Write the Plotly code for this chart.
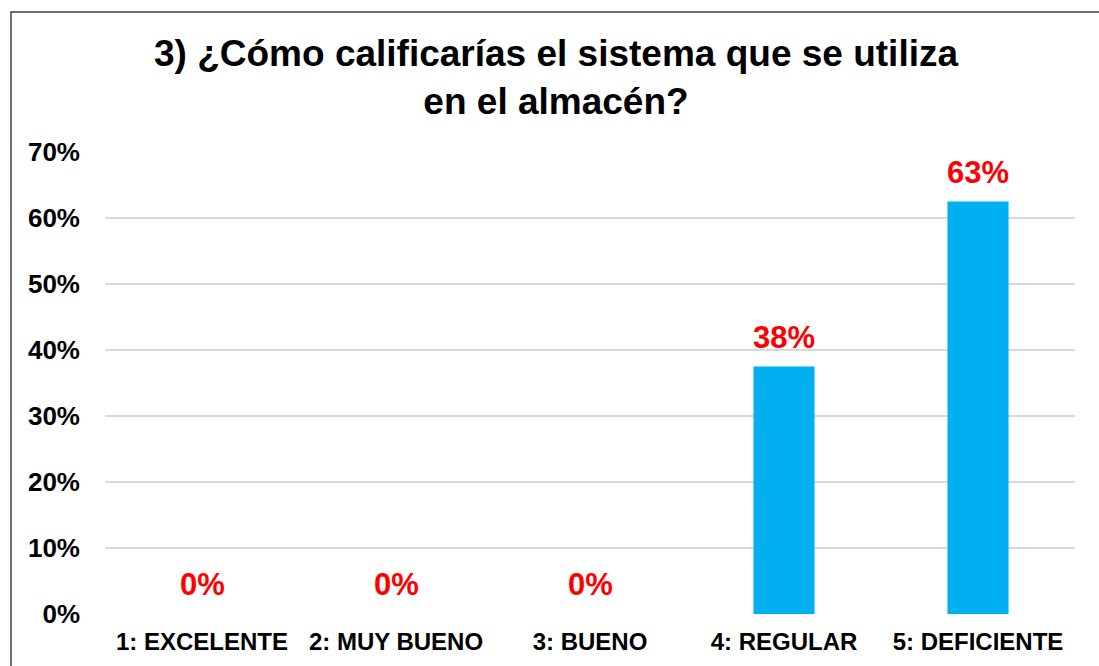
import plotly.graph_objects as go

categories = ["1: EXCELENTE", "2: MUY BUENO", "3: BUENO", "4: REGULAR", "5: DEFICIENTE"]
values = [0.0, 0.0, 0.0, 0.375, 0.625]
labels = ["0%", "0%", "0%", "38%", "63%"]
tick_vals = [0, 0.1, 0.2, 0.3, 0.4, 0.5, 0.6, 0.7]
tick_text = ["0%", "10%", "20%", "30%", "40%", "50%", "60%", "70%"]
title_text = "3) ¿Cómo calificarías el sistema que se utiliza<br>en el almacén?"

W, H = 1099, 666
L, R, T, B = 105, 24, 152, 52
FONT = "Liberation Sans"
pw, ph = W - L - R, H - T - B

fig = go.Figure(go.Bar(
    x=categories, y=values,
    marker=dict(color="#00B0F0", line=dict(width=0)),
    width=0.315, hoverinfo="x+y",
))

# data labels above the bars
for c, v, t in zip(categories, values, labels):
    fig.add_annotation(x=c, y=v, xref="x", yref="y", text="<b>" + t + "</b>",
                       showarrow=False, yanchor="bottom", xanchor="center", yshift=10,
                       font=dict(color="#FF0000", size=31, family=FONT))

# title
fig.add_annotation(x=(556 - L) / pw, y=(H - B - 31) / ph, xref="paper", yref="paper",
                   text="<b>" + title_text + "</b>", showarrow=False,
                   xanchor="center", yanchor="top", align="center",
                   font=dict(size=37, color="black", family=FONT))

fig.update_layout(
    width=W, height=H,
    margin=dict(l=L, r=R, t=T, b=B, autoexpand=False),
    paper_bgcolor="white", plot_bgcolor="white",
    font=dict(family=FONT, color="black"),
    showlegend=False,
)

fig.update_yaxes(range=[0, 0.7], tickvals=tick_vals, ticktext=tick_text,
                 showgrid=True, gridcolor="#D9D9D9", gridwidth=1.5,
                 zeroline=False, showline=False, ticks="",
                 ticklabelstandoff=24,
                 tickfont=dict(size=26, family=FONT, weight="bold", color="black"))
fig.update_xaxes(showgrid=False, showline=False, ticks="", ticklabelstandoff=11,
                 tickfont=dict(size=24, family=FONT, weight="bold", color="black"))

# chart border
fig.add_shape(type="rect", xref="paper", yref="paper",
              x0=(11 - L) / pw, x1=(W + 20 - L) / pw,
              y0=-(20 + B) / ph, y1=(H - B - 12) / ph,
              line=dict(color="#404040", width=1.5), fillcolor="rgba(0,0,0,0)", layer="above")

fig.write_html("out.html")
